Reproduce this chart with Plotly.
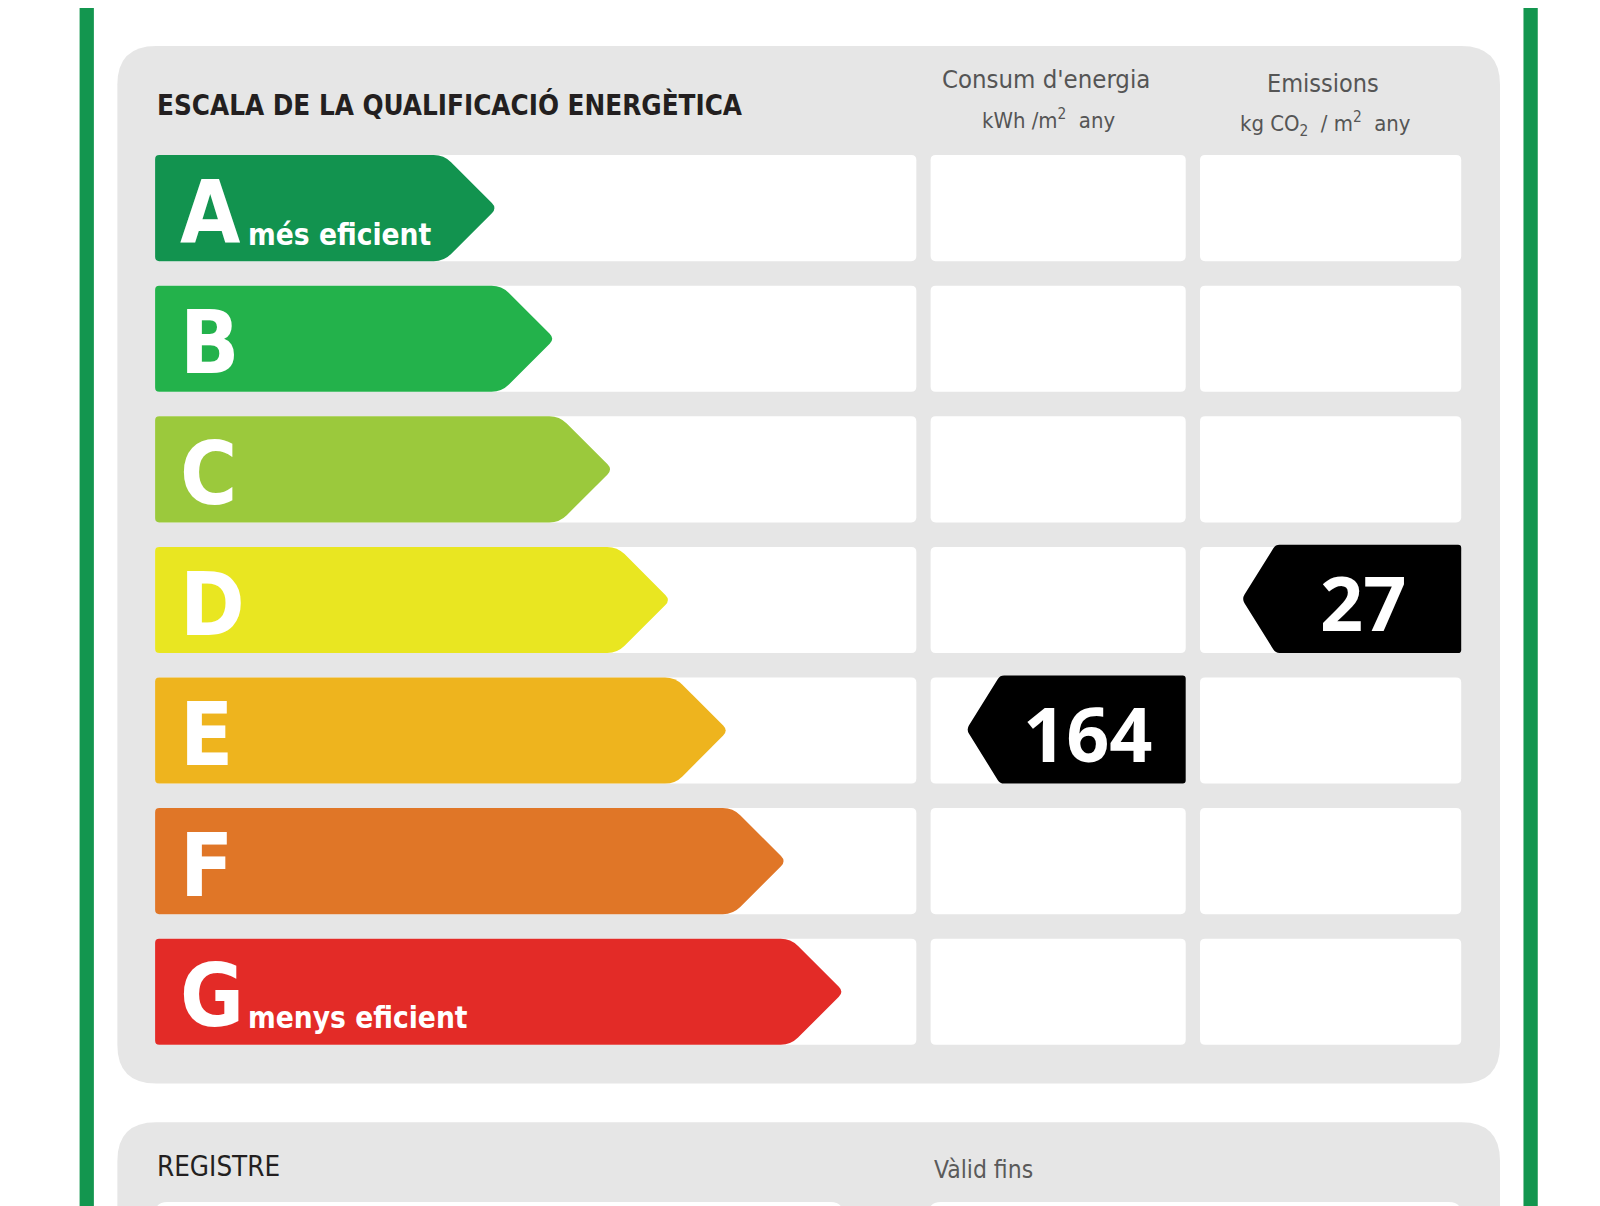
import plotly.graph_objects as go

# rating scale
classes = ["A", "B", "C", "D", "E", "F", "G"]
class_notes = ["més eficient", "", "", "", "", "", "menys eficient"]

title = "ESCALA DE LA QUALIFICACIÓ ENERGÈTICA"
col_titles = ["Consum d'energia", "Emissions"]
col_units = ["kWh /m<sup>2</sup>  any", "kg CO<sub>2</sub>  / m<sup>2</sup>  any"]

# certificate values
energy_value = 164
energy_class = "E"
emission_value = 27
emission_class = "D"

footer_labels = ["REGISTRE", "Vàlid fins"]

# styles
class_colors = ["#12934f", "#23b24b", "#9bc93c", "#e9e621", "#eeb41e", "#e07627", "#e32b27"]
PANEL = "#e6e6e6"
FRAME = "#13964f"
NARROW = "DejaVu Sans Condensed, DejaVu Sans, sans-serif"
NUMFONT = "Open Sans, Noto Sans, DejaVu Sans, sans-serif"

# layout is worked out in a 1568x1182 grid, axes stretch it to the page
W, H = 1568, 1182
S = 1600 / W
OFF = 8 / S          # the page body keeps an 8px margin
ROW0, PITCH, ROW_H = 152, 128, 104
COLS = [(152, 898), (912, 1162), (1176, 1432)]


def rounded_path(pts, r):
    n = len(pts)
    if not isinstance(r, (list, tuple)):
        r = [r] * n
    d = ""
    for i in range(n):
        x0, y0 = pts[i - 1]
        x1, y1 = pts[i]
        x2, y2 = pts[(i + 1) % n]
        l1 = ((x1 - x0) ** 2 + (y1 - y0) ** 2) ** 0.5
        l2 = ((x2 - x1) ** 2 + (y2 - y1) ** 2) ** 0.5
        rr = min(r[i], l1 / 2, l2 / 2)
        ax, ay = x1 - (x1 - x0) / l1 * rr, y1 - (y1 - y0) / l1 * rr
        bx, by = x1 + (x2 - x1) / l2 * rr, y1 + (y2 - y1) / l2 * rr
        d += ("M" if i == 0 else "L") + f"{ax:.2f},{ay:.2f}"
        d += f"Q{x1:.2f},{y1:.2f} {bx:.2f},{by:.2f}"
    return d + "Z"


def rect(x0, y0, x1, y1, r):
    return rounded_path([(x0, y0), (x1, y0), (x1, y1), (x0, y1)], r)


shapes = []


def add(path, color):
    shapes.append(dict(type="path", path=path, xref="x", yref="y",
                       fillcolor=color, line=dict(width=0), layer="below"))


# frame
add(rect(78, -10, 92, H + 10, 0), FRAME)
add(rect(1493, -10, 1507, H + 10, 0), FRAME)

# panels
add(rounded_path([(118, -60), (1465, -60), (1465, 7), (118, 7)], [0, 0, 30, 30]), PANEL)
add(rect(115, 45, 1470, 1062, 38), PANEL)
add(rounded_path([(115, 1100), (1470, 1100), (1470, H + 60), (115, H + 60)], [38, 38, 0, 0]), PANEL)
add(rect(152, 1178, 826, H + 60, 12), "white")
add(rect(910, 1178, 1432, H + 60, 12), "white")

annotations = []


def text(x, y, s, size, color, family, xanchor="left", weight="normal"):
    annotations.append(dict(x=x, y=y, xref="x", yref="y", text=s, showarrow=False,
                            xanchor=xanchor, yanchor="middle",
                            font=dict(size=size * S, color=color, family=family, weight=weight)))


for i, c in enumerate(classes):
    top = ROW0 + i * PITCH
    bot = top + ROW_H
    mid = top + ROW_H / 2
    for x0, x1 in COLS:
        add(rect(x0, top, x1, bot, 5), "white")
    tip = 487 + 56.67 * i
    arrow = [(152, top), (tip - 52, top), (tip, mid), (tip - 52, bot), (152, bot)]
    add(rounded_path(arrow, [4, 10, 7, 10, 4]), class_colors[i])
    text(174, mid + 4, c, 85, "white", NARROW, weight="bold")
    if class_notes[i]:
        text(241, bot - 26, class_notes[i], 29, "white", NARROW, weight="bold")


def marker(col, cls, value):
    i = classes.index(cls)
    top = ROW0 + i * PITCH - 2
    bot = top + ROW_H + 2
    mid = (top + bot) / 2
    x1 = COLS[col][1]
    x0 = x1 - 215
    pts = [(x0 + 33, top), (x1, top), (x1, bot), (x0 + 33, bot), (x0, mid)]
    add(rounded_path(pts, [4, 3, 3, 4, 5]), "black")
    text(x0 + 119, mid + 3, str(value), 74, "white", NUMFONT, xanchor="center", weight="bold")


marker(1, energy_class, energy_value)
marker(2, emission_class, emission_value)

# headings
text(152, 102, title, 27, "#231f20", NARROW, weight="bold")
text(1025, 77, col_titles[0], 25, "#555555", NARROW, xanchor="center")
text(1028, 117, col_units[0], 21.5, "#555555", NARROW, xanchor="center")
text(1297, 82, col_titles[1], 24.5, "#555555", NARROW, xanchor="center")
text(1299, 122, col_units[1], 21.5, "#555555", NARROW, xanchor="center")
text(152, 1143, footer_labels[0], 27, "#231f20", NARROW)
text(913, 1146, footer_labels[1], 24, "#5a5a5a", NARROW)

fig = go.Figure()
fig.update_layout(
    width=1600 - 8, height=1206 - 8,
    margin=dict(l=0, r=0, t=0, b=0),
    paper_bgcolor="white", plot_bgcolor="white",
    xaxis=dict(range=[OFF, W], visible=False, fixedrange=True),
    yaxis=dict(range=[H, OFF], visible=False, fixedrange=True),
    shapes=shapes, annotations=annotations,
    showlegend=False,
)
fig.write_html("out.html")
